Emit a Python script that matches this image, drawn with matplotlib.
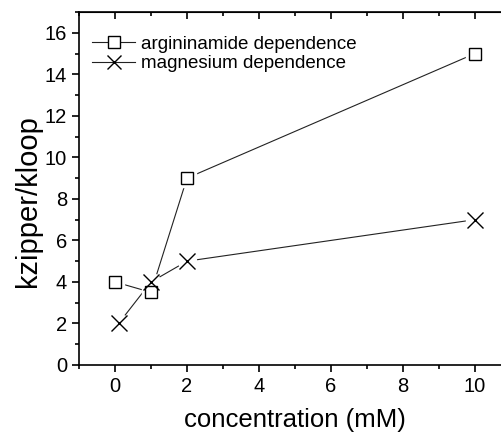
import matplotlib.pyplot as plt
from matplotlib.ticker import MultipleLocator

plt.rcParams['font.family'] = ['Liberation Sans', 'DejaVu Sans']

# data
arg_conc = [0, 1, 2, 10]
arg_ratio = [4, 3.5, 9, 15]
mg_conc = [0.1, 1, 2, 10]
mg_ratio = [2, 4, 5, 7]

fig = plt.figure(figsize=(5.02, 4.33), dpi=100)
# right spine falls outside the picture, as in the reference
ax = fig.add_axes([79 / 502, 68 / 433, 432 / 502, 353 / 433])

# lines first, then white halos so lines stop short of the markers
ax.plot(arg_conc, arg_ratio, color='#222222', lw=0.8, zorder=1)
ax.plot(mg_conc, mg_ratio, color='#222222', lw=0.8, zorder=1)
ax.plot(arg_conc, arg_ratio, ls='none', marker='s', ms=13, mfc='white', mec='white', zorder=2)
ax.plot(mg_conc, mg_ratio, ls='none', marker='o', ms=13, mfc='white', mec='white', zorder=2)
ax.plot(arg_conc, arg_ratio, ls='none', marker='s', ms=9, mfc='white', mec='black', mew=1.0, zorder=3)
ax.plot(mg_conc, mg_ratio, ls='none', marker='x', ms=11, mec='black', mew=1.0, zorder=3)

# legend proxies
h1, = ax.plot([], [], color='#222222', lw=0.8, marker='s', ms=8.5, mfc='white', mec='black')
h2, = ax.plot([], [], color='#222222', lw=0.8, marker='x', ms=10.5, mec='black')
ax.legend([h1, h2], ['argininamide dependence', 'magnesium dependence'],
          loc='upper left', bbox_to_anchor=(0.0, 0.97), frameon=False,
          fontsize=13.5, handlelength=2.3, handletextpad=0.3,
          labelspacing=0.12, borderaxespad=0.3)

ax.set_xlim(-1, 11)
ax.set_ylim(0, 17)
ax.xaxis.set_major_locator(MultipleLocator(2))
ax.xaxis.set_minor_locator(MultipleLocator(1))
ax.yaxis.set_major_locator(MultipleLocator(2))
ax.yaxis.set_minor_locator(MultipleLocator(1))

for s in ax.spines.values():
    s.set_linewidth(1.2)

ax.tick_params(which='both', direction='out', top=False, right=False, width=1.2)
ax.tick_params(which='major', length=5, labelsize=14.5)
ax.tick_params(which='minor', length=3)

# ticks on the top spine point inward
top = ax.secondary_xaxis('top')
top.xaxis.set_major_locator(MultipleLocator(2))
top.xaxis.set_minor_locator(MultipleLocator(1))
top.tick_params(which='both', direction='in', labeltop=False, width=1.2)
top.tick_params(which='major', length=5)
top.tick_params(which='minor', length=3)

ax.set_xlabel('concentration (mM)', fontsize=18.5, labelpad=9)
ax.set_ylabel('kzipper/kloop', fontsize=21)
ax.yaxis.set_label_coords(-0.085, 0.465)

fig.savefig('out.png', dpi=100)
